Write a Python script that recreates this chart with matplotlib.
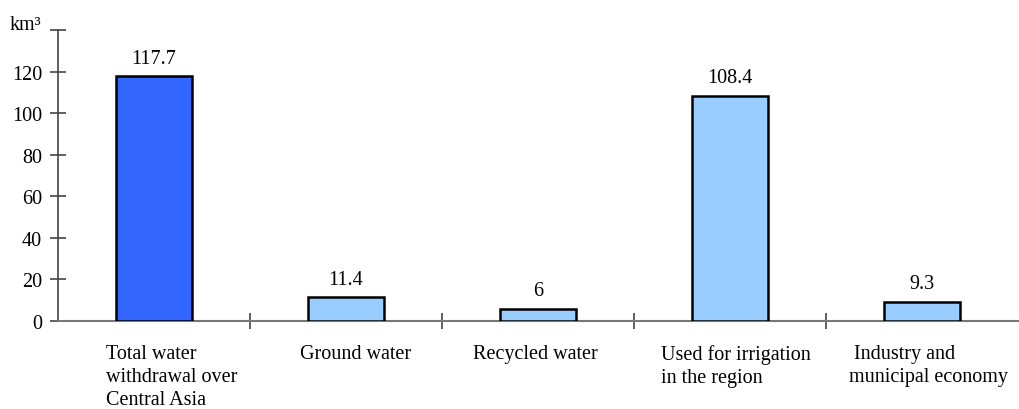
import matplotlib
matplotlib.use("Agg")
import matplotlib.pyplot as plt
import numpy as np

categories = ["Total water\nwithdrawal over\nCentral Asia", "Ground water", "Recycled water",
              "Used for irrigation\nin the region", " Industry and\nmunicipal economy"]
values = [117.7, 11.4, 6, 108.4, 9.3]
value_labels = ["117.7", "11.4", "6", "108.4", "9.3"]
y_ticks = [0, 20, 40, 60, 80, 100, 120]

plt.rcParams["font.family"] = ["Liberation Serif", "DejaVu Serif"]

fig = plt.figure(figsize=(10.2, 4.1), dpi=100)
ax = fig.add_axes([0.0569, 0.2146, 0.9411, 0.7098])

x = np.arange(len(values))
colors = ["#3366FF"] + ["#99CCFF"] * (len(values) - 1)
ax.bar(x, values, width=0.4, color=colors, edgecolor="black", linewidth=1.8, zorder=3)

for xi, v, lab in zip(x, values, value_labels):
    ax.annotate(lab, (xi, v), xytext=(0, 6), textcoords="offset points",
                ha="center", va="bottom", fontsize=14.5)

ax.set_xlim(-0.5, len(values) - 0.5)
ax.set_ylim(0, 140)

# y axis: ticks cross the spine
ax.set_yticks(y_ticks + [140])
ax.set_yticklabels([str(t) for t in y_ticks] + [""], fontsize=14.5)
ax.tick_params(axis="y", direction="inout", length=11, width=1.2, color="#444444", pad=6)

# x axis: category separators, labels drawn as text blocks
ax.set_xticks(np.arange(0.5, len(values) - 0.5, 1.0))
ax.set_xticklabels([])
ax.tick_params(axis="x", direction="inout", length=11, width=1.2, color="#444444")
label_shift = [0.094, 0.052, -0.016, 0.031, 0.036]
for xi, cat, dx in zip(x, categories, label_shift):
    ax.text(xi + dx, -0.08, cat, transform=ax.get_xaxis_transform(), ha="center", va="top",
            multialignment="left", fontsize=14.5, linespacing=1.27)

for s in ["top", "right"]:
    ax.spines[s].set_visible(False)
ax.spines["left"].set_color("#444444")
ax.spines["bottom"].set_color("#777777")
ax.spines["left"].set_linewidth(1.2)
ax.spines["bottom"].set_linewidth(1.5)

fig.text(10 / 1020, 1 - 25 / 410, "km³", fontsize=14.5, ha="left", va="center")

fig.savefig("out.png", dpi=100)
